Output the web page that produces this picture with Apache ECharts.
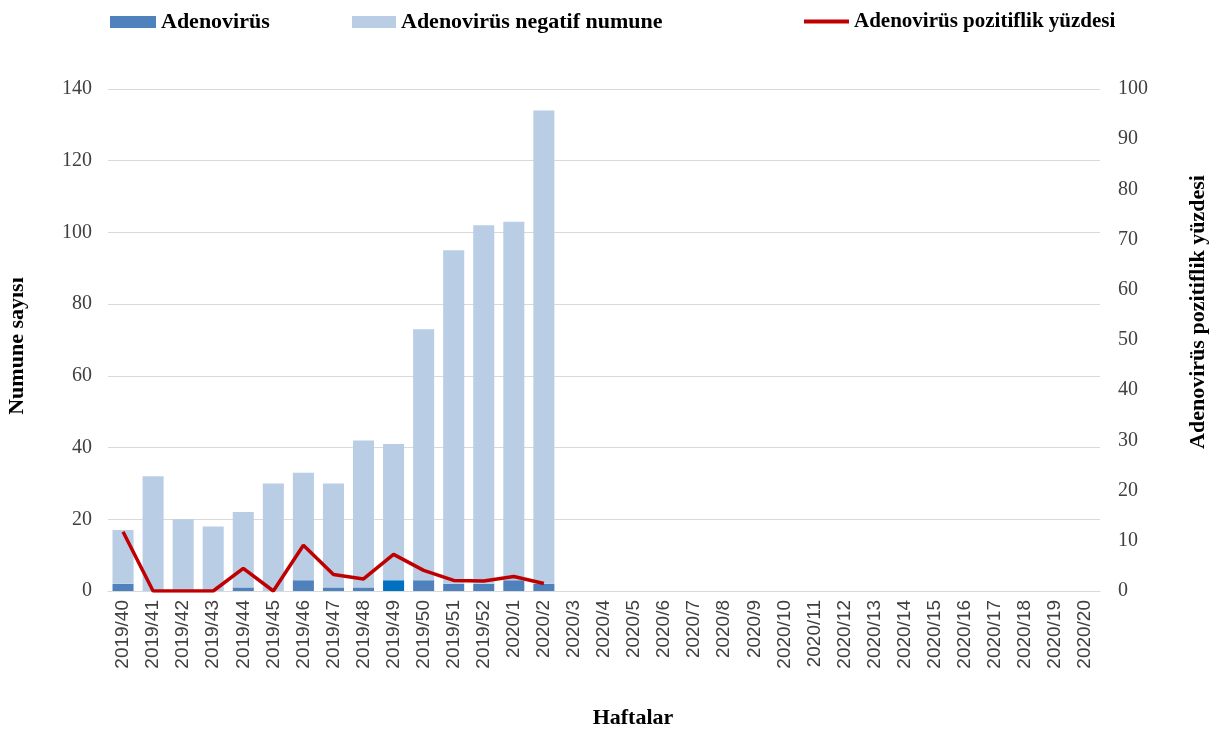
<!DOCTYPE html>
<html>
<head>
<meta charset="utf-8">
<script src="https://cdn.jsdelivr.net/npm/echarts@6/dist/echarts.min.js"></script>
<style>
  html, body { margin: 0; padding: 0; background: #ffffff; }
  #chart { width: 1215px; height: 729px; }
</style>
</head>
<body>
<div id="chart"></div>
<script>
// Weekly surveillance: 2019/40 – 2020/20
const weeks = [
  '2019/40','2019/41','2019/42','2019/43','2019/44','2019/45','2019/46','2019/47',
  '2019/48','2019/49','2019/50','2019/51','2019/52',
  '2020/1','2020/2','2020/3','2020/4','2020/5','2020/6','2020/7','2020/8','2020/9',
  '2020/10','2020/11','2020/12','2020/13','2020/14','2020/15','2020/16','2020/17',
  '2020/18','2020/19','2020/20'
];

// Adenovirus positive samples
const positive = [2, 0, 0, 0, 1, 0, 3, 1, 1, 3, 3, 2, 2, 3, 2];

// Adenovirus negative samples
const negative = [15, 32, 20, 18, 21, 30, 30, 29, 41, 38, 70, 93, 100, 100, 132];

// Positivity percentage
const positivity = [11.8, 0, 0, 0, 4.5, 0, 9.1, 3.3, 2.4, 7.3, 4.1, 2.1, 2.0, 2.9, 1.5];

const leftTicks = { min: 0, max: 140, interval: 20 };
const rightTicks = { min: 0, max: 100, interval: 10 };

const serif = '"Liberation Serif", "Times New Roman", serif';
const sans = '"Liberation Sans", Arial, sans-serif';

const posColor = '#4f81bd';
const posHighlight = '#0070c0';
const negColor = '#b9cde5';
const lineColor = '#c00000';

const positiveData = positive.map((v, i) =>
  weeks[i] === '2019/49' ? { value: v, itemStyle: { color: posHighlight } } : v
);

const legendText = { fontFamily: serif, fontWeight: 'bold', fontSize: 22, color: '#000' };
const axisTitle = { fontFamily: serif, fontWeight: 'bold', fontSize: 22, color: '#000' };
const tickText = { fontFamily: serif, fontSize: 20, color: '#404040' };

const chart = echarts.init(document.getElementById('chart'), null, { renderer: 'canvas' });

chart.setOption({
  animation: false,
  backgroundColor: '#ffffff',
  legend: [
    {
      top: 11, left: 110, padding: 0, itemWidth: 46, itemHeight: 12, itemGap: 0,
      textStyle: legendText,
      data: [{ name: 'Adenovirüs', icon: 'rect' }]
    },
    {
      top: 11, left: 352, padding: 0, itemWidth: 44, itemHeight: 12, itemGap: 0,
      textStyle: legendText,
      data: [{ name: 'Adenovirüs negatif numune', icon: 'rect' }]
    },
    {
      top: 11, left: 804, padding: 0, itemWidth: 45, itemHeight: 4, itemGap: 0,
      textStyle: Object.assign({}, legendText, { fontSize: 21 }),
      data: [{ name: 'Adenovirüs pozitiflik yüzdesi', icon: 'rect', itemStyle: { color: lineColor } }]
    }
  ],
  grid: { left: 108, right: 115, top: 89, bottom: 138, outerBoundsMode: 'none', containLabel: false },
  xAxis: {
    type: 'category',
    data: weeks,
    name: 'Haftalar',
    nameLocation: 'middle',
    nameGap: 116,
    nameTextStyle: Object.assign({}, axisTitle, { padding: [0, 0, 0, 58] }),
    axisLine: { lineStyle: { color: '#d9d9d9', width: 1 } },
    axisTick: { show: false },
    axisLabel: {
      rotate: 90,
      interval: 0,
      margin: 9,
      fontFamily: sans,
      fontSize: 19,
      color: '#404040'
    }
  },
  yAxis: [
    {
      type: 'value',
      min: leftTicks.min,
      max: leftTicks.max,
      interval: leftTicks.interval,
      name: 'Numune sayısı',
      nameLocation: 'middle',
      nameGap: 80,
      nameRotate: 90,
      nameTextStyle: Object.assign({}, axisTitle, { padding: [0, 12, 0, 0] }),
      axisLine: { show: false },
      axisTick: { show: false },
      axisLabel: Object.assign({}, tickText, { margin: 16 }),
      splitLine: { lineStyle: { color: '#d9d9d9', width: 1 } }
    },
    {
      type: 'value',
      min: rightTicks.min,
      max: rightTicks.max,
      interval: rightTicks.interval,
      name: 'Adenovirüs pozitiflik yüzdesi',
      nameLocation: 'middle',
      nameGap: 87,
      nameRotate: 90,
      nameTextStyle: Object.assign({}, axisTitle, { padding: [0, 0, 0, 56] }),
      axisLine: { show: false },
      axisTick: { show: false },
      axisLabel: Object.assign({}, tickText, { margin: 18 }),
      splitLine: { show: false }
    }
  ],
  series: [
    {
      name: 'Adenovirüs',
      type: 'bar',
      stack: 'samples',
      barCategoryGap: '30%',
      itemStyle: { color: posColor },
      data: positiveData
    },
    {
      name: 'Adenovirüs negatif numune',
      type: 'bar',
      stack: 'samples',
      barCategoryGap: '30%',
      itemStyle: { color: negColor },
      data: negative
    },
    {
      name: 'Adenovirüs pozitiflik yüzdesi',
      type: 'line',
      yAxisIndex: 1,
      symbol: 'none',
      lineStyle: { color: lineColor, width: 3.5 },
      itemStyle: { color: lineColor },
      data: positivity
    }
  ]
});
</script>
</body>
</html>
